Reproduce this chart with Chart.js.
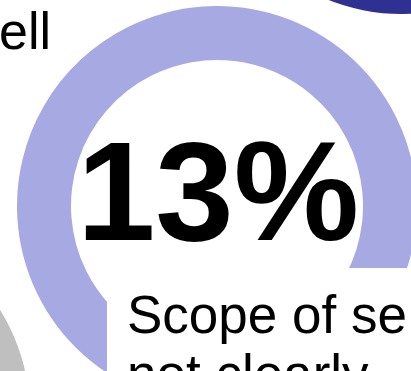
<!DOCTYPE html>
<html>
<head>
<meta charset="utf-8">
<script src="https://cdn.jsdelivr.net/npm/chart.js@4.4.1/dist/chart.umd.min.js"></script>
<style>
  html, body { margin: 0; padding: 0; background: #fff; overflow: hidden; width: 411px; height: 371px; }
  body { position: relative; font-family: "Liberation Sans", Arial, sans-serif; color: #000; }
  .ring { position: absolute; width: 400px; height: 400px; }
  .ring canvas { display: block; }
  .txt { position: absolute; white-space: nowrap; line-height: 1; }
  #caption { position: absolute; left: 107px; top: 268px; right: 0; bottom: 0; background: #fff; }
  #caption div { position: absolute; left: 20px; white-space: nowrap; font-size: 53px; line-height: 59px; }
</style>
</head>
<body>
  <div class="ring" style="left:202px; top:-386px"><canvas id="ringTop" width="400" height="400"></canvas></div>
  <div class="ring" style="left:-370px; top:215px"><canvas id="ringLeft" width="400" height="400"></canvas></div>
  <div class="ring" style="left:17px; top:6px"><canvas id="ringMain" width="400" height="400"></canvas></div>

  <div id="prevLabel" class="txt" style="left:-1px; top:5px; font-size:52px"></div>
  <div id="pct" class="txt" style="left:18px; width:400px; top:121px; text-align:center; font-size:141px; font-weight:bold"></div>
  <div id="caption">
    <div id="cap0" style="top:17px"></div>
    <div id="cap1" style="top:76px"></div>
  </div>

<script>
// main ring: share in percent and the rest
const shareLabels = ['Scope', 'Other'];
const shareValues = [13, 87];
const shareColors = ['#6d70c9', '#a7a9e2'];
const pctText = '13%';
const captionLines = ['Scope of se', 'not clearly'];
const prevText = 'ell';

// neighbouring rings of the row (only their outer edge shows)
const topRingValues = [100];
const leftRingValues = [100];

document.getElementById('pct').textContent = pctText;
document.getElementById('prevLabel').textContent = prevText;
document.getElementById('cap0').textContent = captionLines[0];
document.getElementById('cap1').textContent = captionLines[1];

function ring(id, labels, values, colors, rotation) {
  return new Chart(document.getElementById(id), {
    type: 'doughnut',
    data: {
      labels: labels,
      datasets: [{ data: values, backgroundColor: colors, borderWidth: 0 }]
    },
    options: {
      responsive: false,
      animation: false,
      cutout: '73%',
      rotation: rotation,
      layout: { padding: 0 },
      plugins: { legend: { display: false }, tooltip: { enabled: false } }
    }
  });
}

ring('ringTop', ['A'], topRingValues, ['#2e3192'], 0);
ring('ringLeft', ['B'], leftRingValues, ['#bfbfbf'], 0);
ring('ringMain', shareLabels, shareValues, shareColors, 130);
</script>
</body>
</html>
